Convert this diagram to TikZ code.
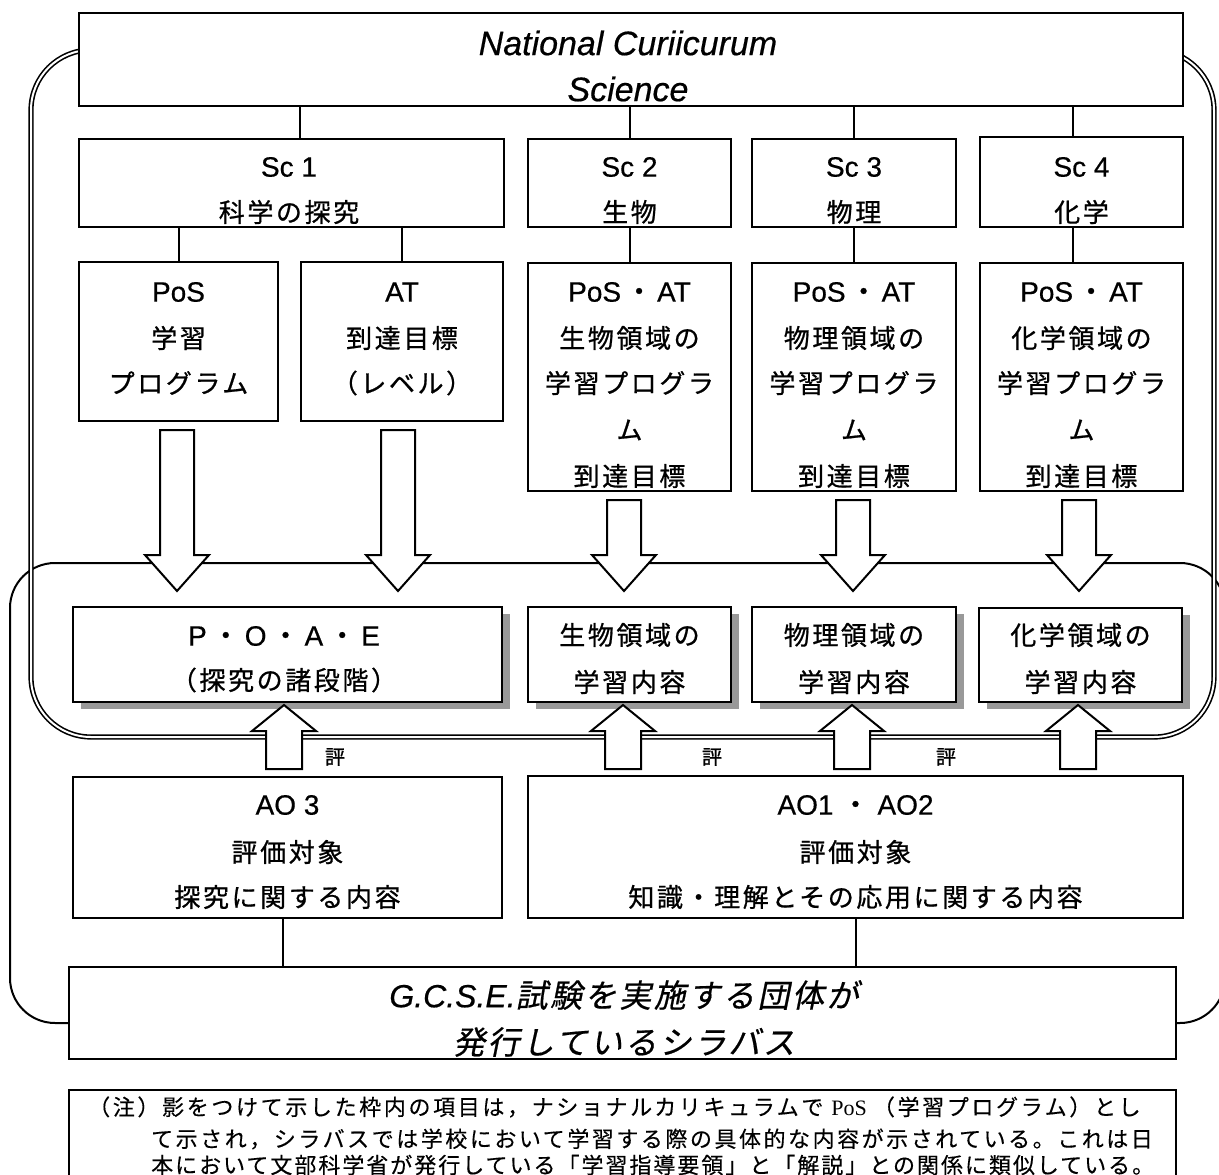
\documentclass[tikz,border=0pt]{standalone}
\usepackage{fontspec}
\usetikzlibrary{shadows}
\newfontfamily\jp[LetterSpace=10,FakeBold=0.8]{Noto Sans CJK JP}
\newfontfamily\jpb[FakeBold=1.2]{Noto Sans CJK JP}
\newfontfamily\jpsl[FakeSlant=0.2,LetterSpace=8,FakeBold=0.6]{Noto Sans CJK JP}
\newfontfamily\jpnote[LetterSpace=12,FakeBold=0.3]{Noto Sans CJK JP}
\newfontfamily\jpnoteb[LetterSpace=11.5,FakeBold=0.3]{Noto Sans CJK JP}
\newfontfamily\jpnotec[LetterSpace=9,FakeBold=0.3]{Noto Sans CJK JP}
\newfontfamily\ar[FakeBold=0.5]{Liberation Sans}
\newfontfamily\ser{Liberation Serif}
\newcommand\jdot{{\jp ・}}
\newcommand\darr[2]{\draw[blk] (#1-17,#2) -- (#1+17,#2) -- (#1+17,555) -- (#1+32,555) -- (#1,591) -- (#1-32,555) -- (#1-17,555) -- cycle;}
\newcommand\uarr[1]{\draw[blk] (#1-18,769) -- (#1-18,731) -- (#1-32,731) -- (#1,705) -- (#1+32,731) -- (#1+18,731) -- (#1+18,769) -- cycle;}
\begin{document}
\begin{tikzpicture}[x=1pt,y=-1pt,
  box/.style={draw, line width=2pt, fill=white, inner sep=0pt, rectangle},
  shbox/.style={box, drop shadow={shadow xshift=8pt, shadow yshift=-7pt, fill=black!40, opacity=1}},
  conn/.style={line width=2pt},
  blk/.style={draw, line width=2pt, fill=white, line join=miter},
  region/.style={line width=2pt},
  dregion/.style={double, line width=1.6pt, double distance=2pt},
  txt/.style={inner sep=0pt, align=center},
  jpf/.style={txt, font=\fontsize{26}{30}\selectfont\jp},
  latf/.style={txt, font=\fontsize{28}{30}\selectfont\ar},
  evf/.style={txt, font=\fontsize{20}{22}\selectfont\jpb},
]
\useasboundingbox (0,0) rectangle (1219,1175);
\fill[white] (0,0) rectangle (1219,1175);

% enclosing regions
\draw[region, rounded corners=45] (10,563) rectangle (1225,1023);
\draw[dregion, rounded corners=60] (120,50) -- (31,50) -- (31,737) -- (1214,737) -- (1214,50) -- (1140,50);

% top box
\node[box, minimum width=1104, minimum height=93] (top) at (631,59.5) {};
\node[txt, font=\fontsize{34}{36}\selectfont\ar\itshape] (topa) at (628,43) {National Curiicurum};
\node[txt, font=\fontsize{34}{36}\selectfont\ar\itshape] (topb) at (628,89) {Science};

% Sc boxes
\node[box, minimum width=425, minimum height=88] (sc1) at (291.5,183) {};
\node[box, minimum width=203, minimum height=88] (sc2) at (629.5,183) {};
\node[box, minimum width=204, minimum height=88] (sc3) at (854,183) {};
\node[box, minimum width=203, minimum height=90] (sc4) at (1081.5,182) {};
\coordinate (x1) at (300,0);
\coordinate (x4) at (1073,0);
\draw[conn] (top.south -| x1) -- (sc1.north -| x1);
\draw[conn] (top.south -| sc2.north) -- (sc2.north);
\draw[conn] (top.south -| sc3.north) -- (sc3.north);
\draw[conn] (top.south -| x4) -- (sc4.north -| x4);
\node[latf] (sc1a) at (289,167) {Sc 1};
\node[jpf] (sc1b) at (289,212) {科学の探究};
\node[latf] (sc2a) at (629.5,167) {Sc 2};
\node[jpf] (sc2b) at (629.5,212) {生物};
\node[latf] (sc3a) at (854,167) {Sc 3};
\node[jpf] (sc3b) at (854,212) {物理};
\node[latf] (sc4a) at (1081.5,167) {Sc 4};
\node[jpf] (sc4b) at (1081.5,212) {化学};

% PoS / AT boxes
\node[box, minimum width=199, minimum height=159] (p1) at (178.5,341.5) {};
\node[box, minimum width=202, minimum height=159] (p2) at (402,341.5) {};
\node[box, minimum width=203, minimum height=228] (p3) at (629.5,377) {};
\node[box, minimum width=204, minimum height=228] (p4) at (854,377) {};
\node[box, minimum width=203, minimum height=228] (p5) at (1081.5,377) {};
\draw[conn] (sc1.south -| p1.north) -- (p1.north);
\draw[conn] (sc1.south -| p2.north) -- (p2.north);
\draw[conn] (sc2.south) -- (p3.north);
\draw[conn] (sc3.south) -- (p4.north);
\draw[conn] (sc4.south -| x4) -- (p5.north -| x4);

\node[latf] (p1a) at (178.5,292) {PoS};
\node[jpf] (p1b) at (178.5,338) {学習};
\node[jpf] (p1c) at (178.5,383) {プログラム};
\node[latf] (p2a) at (402,292) {AT};
\node[jpf] (p2b) at (402,338) {到達目標};
\node[jpf] (p2c) at (402,383) {（レベル）};
\foreach \n/\cx/\f in {p3/629.5/生物, p4/854/物理, p5/1081.5/化学}{
  \node[latf] (\n a) at (\cx,292) {PoS\hspace{4pt}\jdot\hspace{4pt}AT};
  \node[jpf] (\n b) at (\cx,338) {\f 領域の};
  \node[jpf] (\n c) at (\cx,383) {学習プログラ};
  \node[jpf] (\n d) at (\cx,430) {ム};
  \node[jpf] (\n e) at (\cx,476) {到達目標};
}

% shaded boxes
\node[shbox, minimum width=429, minimum height=95] (s1) at (287.5,654.5) {};
\node[shbox, minimum width=203, minimum height=95] (s2) at (629.5,654.5) {};
\node[shbox, minimum width=204, minimum height=95] (s3) at (854,654.5) {};
\node[shbox, minimum width=203, minimum height=94] (s4) at (1080.5,655) {};
\node[latf] (s1a) at (284,636) {P\hspace{5pt}\jdot\hspace{5pt}O\hspace{5pt}\jdot\hspace{5pt}A\hspace{5pt}\jdot\hspace{5pt}E};
\node[jpf] (s1b) at (284,680) {（探究の諸段階）};
\node[jpf] (s2a) at (629.5,635) {生物領域の};
\node[jpf] (s2b) at (629.5,682) {学習内容};
\node[jpf] (s3a) at (854,635) {物理領域の};
\node[jpf] (s3b) at (854,682) {学習内容};
\node[jpf] (s4a) at (1080.5,635) {化学領域の};
\node[jpf] (s4b) at (1080.5,682) {学習内容};

% block arrows down
\darr{177}{430}
\darr{398}{430}
\darr{624}{500}
\darr{853}{500}
\darr{1079}{500}

% AO boxes
\node[box, minimum width=429, minimum height=141] (ao3) at (287.5,847.5) {};
\node[box, minimum width=655, minimum height=142] (ao12) at (855.5,847) {};
\node[latf] (ao3a) at (287.5,805) {AO 3};
\node[jpf] (ao3b) at (287.5,852) {評価対象};
\node[jpf] (ao3c) at (287.5,897) {探究に関する内容};
\node[latf] (ao12a) at (855.5,805) {AO1\hspace{8pt}\jdot\hspace{8pt}AO2};
\node[jpf] (ao12b) at (855.5,852) {評価対象};
\node[jpf] (ao12c) at (855.5,897) {知識・理解とその応用に関する内容};

% block arrows up
\uarr{284}
\uarr{623}
\uarr{852}
\uarr{1078}
\node[evf] (ev1) at (335,757) {評};
\node[evf] (ev2) at (712,757) {評};
\node[evf] (ev3) at (946,757) {評};

% GCSE box
\node[box, minimum width=1107, minimum height=92] (gcse) at (622.5,1013) {};
\coordinate (x5) at (283,0);
\draw[conn] (ao3.south -| x5) -- (gcse.north -| x5);
\draw[conn] (ao12.south) -- (gcse.north -| ao12.south);
\node[txt, font=\fontsize{32}{34}\selectfont] (ga) at (624,995) {{\ar\itshape G.C.S.E.}{\jpsl 試験を実施する団体が}};
\node[txt, font=\fontsize{32}{34}\selectfont\jpsl] (gb) at (624,1042) {発行しているシラバス};

% note box
\node[box, minimum width=1107, minimum height=90] (note) at (622.5,1135) {};
\node[txt, anchor=west, font=\fontsize{22}{24}\selectfont] (n1) at (88,1107) {{\jpnote （注）影をつけて示した枠内の項目は，ナショナルカリキュラムで}\hspace{8pt}{\ser PoS}\hspace{6pt}{\jpnote （学習プログラム）とし}};
\node[txt, anchor=west, font=\fontsize{22}{24}\selectfont\jpnoteb] (n2) at (151,1139) {て示され，シラバスでは学校において学習する際の具体的な内容が示されている。これは日};
\node[txt, anchor=west, font=\fontsize{22}{24}\selectfont\jpnotec] (n3) at (151,1165) {本において文部科学省が発行している「学習指導要領」と「解説」との関係に類似している。};
\end{tikzpicture}
\end{document}
